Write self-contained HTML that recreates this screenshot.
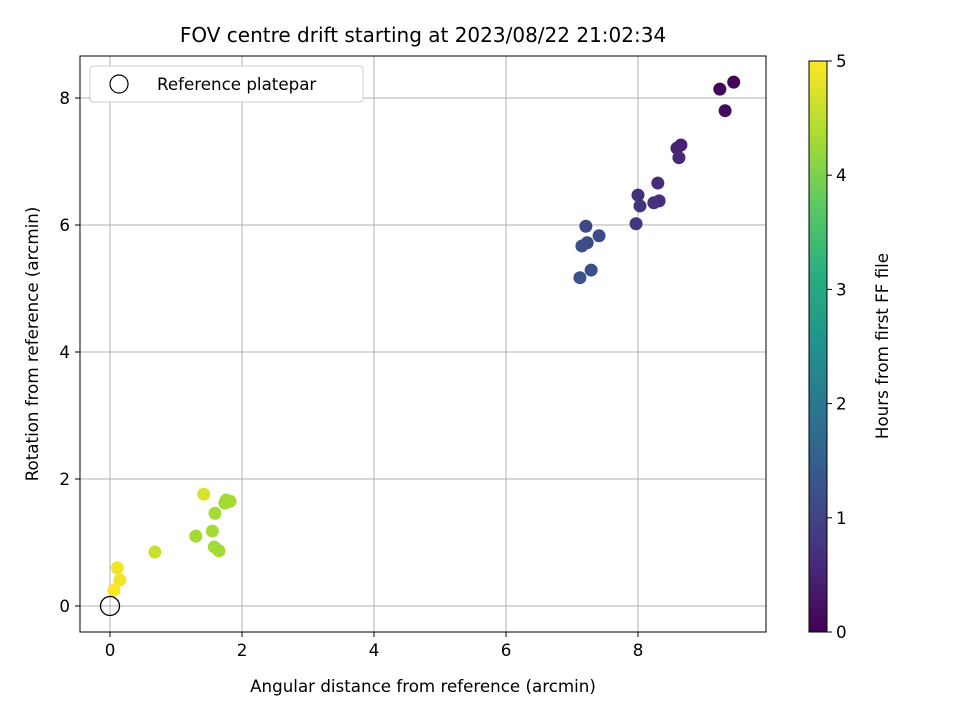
<!DOCTYPE html>
<html><head><meta charset="utf-8"><style>
body{margin:0;background:#fff;font-family:"DejaVu Sans","Liberation Sans",sans-serif}
svg text{font-family:"DejaVu Sans","Liberation Sans",sans-serif;fill:#000}
.t{font-size:16.7px}
.ti{font-size:20px}
</style></head><body>
<svg id="c" width="960" height="720">
<defs><linearGradient id="vir" x1="0" y1="1" x2="0" y2="0">
<stop offset="0" stop-color="#440154"/><stop offset="0.125" stop-color="#472d7b"/><stop offset="0.25" stop-color="#3b528b"/><stop offset="0.375" stop-color="#2c728e"/><stop offset="0.5" stop-color="#21918c"/><stop offset="0.625" stop-color="#28ae80"/><stop offset="0.75" stop-color="#5ec962"/><stop offset="0.875" stop-color="#addc30"/><stop offset="1" stop-color="#fde725"/></linearGradient></defs>
<g id="grid"></g>
<g id="pts"></g>
<rect x="80" y="56" width="686" height="576" fill="none" stroke="#000" stroke-width="1"/>
<g id="ticks"></g>
<text x="423" y="42" class="ti" text-anchor="middle">FOV centre drift starting at 2023/08/22 21:02:34</text>
<text x="423" y="692" class="t" text-anchor="middle">Angular distance from reference (arcmin)</text>
<text x="38" y="344" class="t" text-anchor="middle" transform="rotate(-90 38 344)">Rotation from reference (arcmin)</text>
<g>
<rect x="90" y="66" width="273" height="36" rx="3" fill="#fff" stroke="#ccc"/>
<circle cx="119" cy="84" r="9" fill="none" stroke="#000" stroke-width="1.2"/>
<text x="157" y="90" class="t">Reference platepar</text></g>
<rect x="809" y="61" width="18" height="571" fill="url(#vir)" stroke="#000" stroke-width="1"/>
<g id="cb"></g>
<text x="888" y="346" class="t" text-anchor="middle" transform="rotate(-90 888 346)">Hours from first FF file</text>
</svg>
<script>
const xs=[9.45,9.24,9.32,8.65,8.59,8.62,8.30,8.0,8.03,8.32,8.24,7.97,7.21,7.41,7.23,7.15,7.29,7.12,1.42,1.76,1.82,1.74,1.59,1.55,1.30,1.58,1.65,0.68,0.11,0.15,0.06];
const ys=[8.25,8.14,7.80,7.26,7.21,7.06,6.66,6.47,6.30,6.38,6.35,6.02,5.98,5.83,5.72,5.67,5.29,5.17,1.76,1.67,1.65,1.62,1.46,1.18,1.10,0.93,0.87,0.85,0.60,0.41,0.25];
const hours=[0.05,0.1,0.15,0.5,0.5,0.55,0.6,0.7,0.75,0.65,0.7,0.8,1.1,1.1,1.15,1.2,1.2,1.25,4.7,4.3,4.3,4.3,4.3,4.3,4.3,4.3,4.3,4.6,4.9,4.9,5.0];
const xTicks=[0,2,4,6,8], yTicks=[0,2,4,6,8], cbTicks=[0,1,2,3,4,5];
const X=v=>110+v*66, Y=v=>606-v*63.5, CB=v=>632-v*114.2;
const vir=["#440154","#472d7b","#3b528b","#2c728e","#21918c","#28ae80","#5ec962","#addc30","#fde725"];
function hx(h){return [1,3,5].map(i=>parseInt(h.substr(i,2),16));}
function col(t){t=Math.max(0,Math.min(1,t))*8;const i=Math.min(7,Math.floor(t)),f=t-i,a=hx(vir[i]),b=hx(vir[i+1]);return "rgb("+a.map((v,k)=>Math.round(v+(b[k]-v)*f)).join(",")+")";}
const NS="http://www.w3.org/2000/svg";
function mk(p,t,at){const e=document.createElementNS(NS,t);for(const k in at)e.setAttribute(k,at[k]);p.appendChild(e);return e;}
const g=document.getElementById('grid'),tk=document.getElementById('ticks'),pts=document.getElementById('pts'),cb=document.getElementById('cb');
xTicks.forEach(v=>{const l=mk(g,'line',{x1:X(v),x2:X(v),y1:56,y2:632,stroke:'#b0b0b0','stroke-width':1});

mk(tk,'line',{x1:X(v),x2:X(v),y1:632,y2:637,stroke:'#000'});
const t=mk(tk,'text',{x:X(v),y:656,class:'t','text-anchor':'middle'});t.textContent=v;
});
yTicks.forEach(v=>{const l=mk(g,'line',{x1:80,x2:766,y1:Y(v),y2:Y(v),stroke:'#b0b0b0','stroke-width':1});

mk(tk,'line',{x1:75,x2:80,y1:Y(v),y2:Y(v),stroke:'#000'});
const t=mk(tk,'text',{x:70,y:Y(v)+6,class:'t','text-anchor':'end'});t.textContent=v;
});
xs.forEach((x,i)=>{const c=mk(pts,'circle',{cx:X(x),cy:Y(ys[i]),r:6.5,fill:col(hours[i]/5)});
});
const r=mk(pts,'circle',{cx:X(0),cy:Y(0),r:9.5,fill:'none',stroke:'#000','stroke-width':1.3});

cbTicks.forEach(v=>{mk(cb,'line',{x1:827,x2:832,y1:CB(v),y2:CB(v),stroke:'#000'});
const t=mk(cb,'text',{x:836,y:CB(v)+6,class:'t'});t.textContent=v;
});
</script>
</body></html>
